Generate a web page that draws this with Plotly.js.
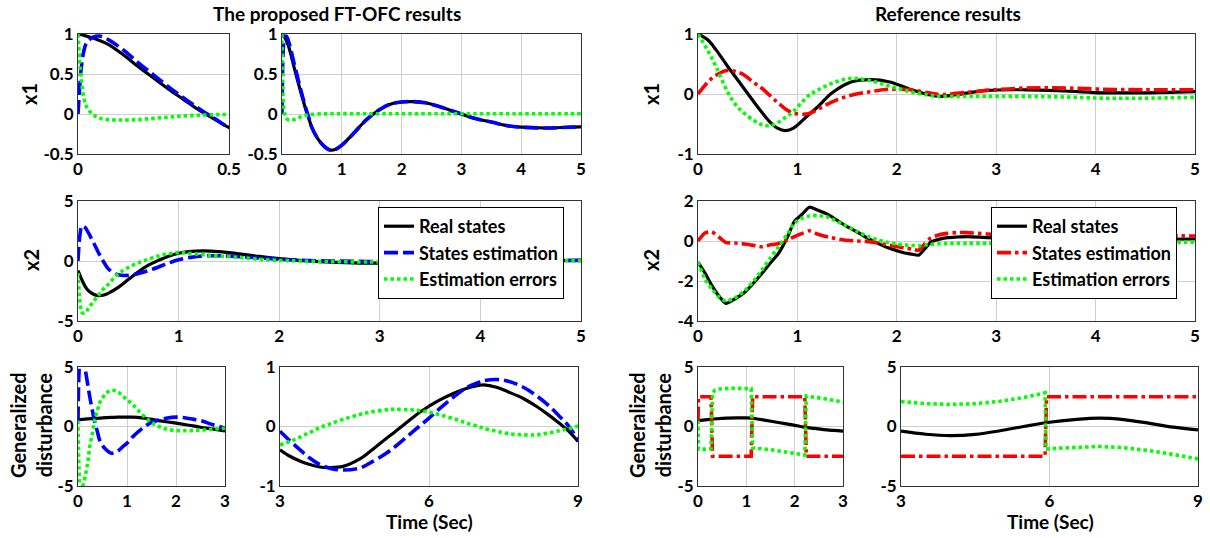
<!DOCTYPE html>
<html>
<head>
<meta charset="utf-8">
<script src="https://cdn.plot.ly/plotly-3.0.1.min.js"></script>
<style>html,body{margin:0;padding:0;background:#fff;}#chart{width:1210px;height:538px;}</style>
</head>
<body>
<div id="chart"></div>
<script>
// ---------------- Data ----------------
// Left panel, x1 (shown in both top-left subplots)
const tL1 = [0,0.005,0.01,0.02,0.03,0.05,0.07,0.1,0.15,0.2,0.25,0.3,0.35,0.4,0.45,0.5,0.6,0.7,0.8,0.9,1.0,1.2,1.4,1.6,1.8,2.0,2.2,2.4,2.6,2.8,3.0,3.2,3.5,3.8,4.0,4.4,4.8,5.0];
const L1_real = [1,0.996,0.992,0.983,0.97,0.95,0.92,0.87,0.74,0.59,0.45,0.31,0.18,0.05,-0.06,-0.17,-0.31,-0.40,-0.45,-0.44,-0.39,-0.24,-0.08,0.04,0.12,0.15,0.155,0.14,0.10,0.05,0.0,-0.05,-0.10,-0.15,-0.165,-0.175,-0.165,-0.16];
const L1_est  = [0,0.3,0.55,0.8,0.9,0.96,0.975,0.93,0.8,0.64,0.49,0.34,0.2,0.07,-0.05,-0.17,-0.31,-0.40,-0.45,-0.44,-0.39,-0.24,-0.08,0.04,0.12,0.15,0.155,0.14,0.10,0.05,0.0,-0.05,-0.10,-0.15,-0.165,-0.175,-0.165,-0.16];
const L1_err  = [1,0.7,0.45,0.19,0.08,-0.01,-0.05,-0.07,-0.075,-0.07,-0.055,-0.04,-0.025,-0.015,-0.01,-0.005,0,0.002,0.003,0.003,0.004,0.004,0.004,0.004,0.004,0.004,0.004,0.004,0.004,0.004,0.004,0.004,0.004,0.004,0.004,0.004,0.004,0.004];

// Left panel, x2
const tL2 = [0,0.02,0.04,0.07,0.1,0.15,0.2,0.25,0.3,0.4,0.5,0.6,0.7,0.8,0.9,1.0,1.1,1.25,1.4,1.6,1.8,2.0,2.2,2.5,2.8,3.0,3.5,4.0,4.5,5.0];
const L2_real = [-0.8,-1.2,-1.6,-2.1,-2.45,-2.75,-2.88,-2.85,-2.7,-2.2,-1.55,-0.9,-0.35,0.05,0.4,0.65,0.78,0.84,0.78,0.6,0.38,0.2,0.06,-0.09,-0.17,-0.17,-0.1,-0.02,0.03,0.05];
const L2_est  = [0,2.2,2.93,2.8,2.4,1.6,0.75,0.0,-0.64,-1.15,-1.2,-1.05,-0.8,-0.5,-0.18,0.1,0.28,0.42,0.44,0.36,0.25,0.15,0.07,0,-0.03,-0.04,-0.03,0,0.03,0.05];
const L2_err  = [-1.0,-3.4,-4.3,-4.33,-4.0,-3.4,-2.9,-2.35,-1.95,-1.06,-0.55,-0.15,0.15,0.42,0.6,0.7,0.65,0.52,0.42,0.3,0.14,0.05,0,-0.05,-0.08,-0.08,-0.05,-0.02,0,0.02];

// Left panel, generalized disturbance 0..3
const tL3 = [0,0.02,0.05,0.08,0.1,0.14,0.2,0.24,0.3,0.34,0.4,0.44,0.5,0.58,0.68,0.8,0.9,1.0,1.12,1.3,1.47,1.65,1.8,2.0,2.2,2.35,2.5,2.76,3.0];
const L3_real = [0.56,0.57,0.58,0.6,0.6,0.62,0.64,0.65,0.67,0.68,0.69,0.7,0.72,0.74,0.76,0.78,0.79,0.79,0.78,0.72,0.62,0.5,0.4,0.28,0.15,0.05,-0.06,-0.22,-0.37];
const L3_est  = [0.5,4.5,6.5,6.3,6.0,5.0,3.5,2.5,1.2,0.42,-0.5,-1.13,-1.6,-1.97,-2.25,-2.1,-1.75,-1.4,-0.85,-0.2,0.28,0.55,0.7,0.79,0.72,0.62,0.5,0.14,-0.14];
const L3_err  = [0.5,-3.5,-5.5,-5.4,-5.0,-4.3,-3.0,-1.7,-0.4,0.56,1.4,1.97,2.4,2.82,3.04,2.95,2.6,2.25,1.83,1.05,0.42,0.0,-0.22,-0.34,-0.36,-0.34,-0.3,-0.22,-0.14];

// Left panel, generalized disturbance 3..9
const tL4 = [3.0,3.2,3.4,3.6,3.8,4.0,4.27,4.6,4.8,5.14,5.3,5.6,5.8,6.0,6.2,6.5,6.75,7.0,7.1,7.36,7.6,7.9,8.16,8.4,8.63,8.8,9.0];
const L4_real = [-0.39,-0.5,-0.58,-0.64,-0.68,-0.69,-0.67,-0.55,-0.43,-0.2,-0.1,0.1,0.23,0.34,0.44,0.56,0.64,0.69,0.7,0.66,0.58,0.47,0.34,0.2,0.05,-0.07,-0.25];
const L4_est  = [-0.08,-0.24,-0.39,-0.53,-0.64,-0.7,-0.73,-0.7,-0.62,-0.45,-0.35,-0.14,0.0,0.14,0.29,0.5,0.65,0.74,0.77,0.79,0.76,0.66,0.52,0.36,0.17,0.02,-0.22];
const L4_err  = [-0.31,-0.25,-0.18,-0.1,-0.02,0.04,0.12,0.2,0.24,0.28,0.29,0.28,0.27,0.24,0.2,0.13,0.06,0.0,-0.03,-0.08,-0.12,-0.14,-0.14,-0.11,-0.07,-0.04,0.01];

// Right panel, x1
const tR1 = [0,0.1,0.18,0.29,0.37,0.45,0.57,0.64,0.72,0.8,0.88,0.96,1.11,1.2,1.35,1.54,1.74,1.93,2.13,2.32,2.44,2.6,2.91,3.3,3.69,4.08,4.47,5.0];
const R1_real = [1,0.9,0.74,0.48,0.3,0.12,-0.15,-0.3,-0.46,-0.57,-0.61,-0.57,-0.35,-0.22,0.02,0.2,0.24,0.2,0.08,-0.01,-0.04,-0.01,0.06,0.07,0.05,0.02,0.02,0.04];
const R1_est  = [0,0.2,0.31,0.39,0.38,0.33,0.18,0.1,-0.02,-0.14,-0.25,-0.32,-0.33,-0.26,-0.13,-0.02,0.04,0.08,0.07,0.02,-0.01,0.01,0.06,0.1,0.1,0.08,0.07,0.07];
const R1_err  = [1,0.72,0.46,0.06,-0.16,-0.3,-0.45,-0.51,-0.53,-0.48,-0.39,-0.29,-0.03,0.06,0.18,0.26,0.22,0.13,0.04,-0.02,-0.04,-0.04,-0.04,-0.04,-0.05,-0.07,-0.07,-0.055];

// Right panel, x2
const tR2 = [0,0.07,0.14,0.21,0.28,0.37,0.47,0.56,0.64,0.72,0.81,0.9,0.97,1.05,1.12,1.2,1.31,1.47,1.6,1.71,1.81,1.91,2.0,2.07,2.15,2.22,2.28,2.34,2.42,2.51,2.6,2.71,2.91,3.2,3.6,4.0,4.5,5.0];
const R2_real = [-1.05,-1.6,-2.23,-2.75,-3.12,-2.9,-2.56,-2.1,-1.64,-1.15,-0.62,0.2,0.98,1.35,1.69,1.55,1.32,0.81,0.45,0.13,-0.12,-0.34,-0.48,-0.59,-0.66,-0.71,-0.4,-0.07,0.08,0.17,0.2,0.22,0.17,0.12,0.1,0.08,0.08,0.1];
const R2_est  = [0,0.4,0.45,0.2,-0.07,-0.1,-0.15,-0.22,-0.29,-0.2,-0.12,0.05,0.22,0.38,0.51,0.35,0.2,0.05,0.0,-0.03,-0.1,-0.2,-0.28,-0.34,-0.4,-0.46,-0.15,0.15,0.3,0.38,0.42,0.42,0.35,0.32,0.3,0.28,0.27,0.25];
const R2_err  = [-1.05,-1.9,-2.4,-2.8,-3.0,-2.85,-2.48,-2.0,-1.47,-0.9,-0.29,0.35,0.89,1.15,1.25,1.28,1.18,0.81,0.48,0.22,0.05,-0.08,-0.15,-0.2,-0.22,-0.24,-0.2,-0.17,-0.14,-0.13,-0.12,-0.12,-0.12,-0.12,-0.14,-0.14,-0.1,-0.05];

// Right panel, generalized disturbance 0..3
const tR3 = [0,0.2,0.4,0.6,0.8,1.0,1.2,1.4,1.6,1.8,2.0,2.2,2.4,2.6,2.8,3.0];
const R3_real = [0.5,0.58,0.65,0.7,0.73,0.72,0.65,0.52,0.38,0.24,0.1,-0.05,-0.16,-0.26,-0.33,-0.39];
const tR3_est = [0,0.01,0.27,0.3,1.1,1.13,2.21,2.24,3.0];
const R3_est  = [0.5,2.5,2.5,-2.5,-2.5,2.5,2.5,-2.5,-2.5];
const tR3_err = [0,0.01,0.15,0.27,0.3,0.35,0.45,0.7,0.9,1.1,1.13,1.5,1.9,2.21,2.24,2.6,3.0];
const R3_err  = [0.5,-1.9,-1.9,-1.85,2.8,3.05,3.15,3.22,3.2,3.18,-1.8,-1.95,-2.2,-2.4,2.55,2.35,2.05];

// Right panel, generalized disturbance 3..9
const tR4 = [3,3.5,4,4.5,5,5.5,6,6.5,7,7.5,8,8.5,9];
const R4_real = [-0.39,-0.65,-0.76,-0.66,-0.36,0.02,0.36,0.58,0.7,0.58,0.28,-0.05,-0.28];
const tR4_est = [3,5.91,5.94,9];
const R4_est  = [-2.5,-2.5,2.5,2.5];
const tR4_err = [3,3.5,4,4.5,5,5.5,5.91,5.93,6.2,6.5,7,7.5,8,8.5,9];
const R4_err  = [2.1,1.92,1.85,1.92,2.12,2.45,2.83,-1.9,-1.82,-1.74,-1.68,-1.78,-2.02,-2.35,-2.72];

// Labels
const seriesNames = ['Real states','States estimation','Estimation errors'];
const panelTitles = ['The proposed FT-OFC results','Reference results'];
const yLabels = ['x1','x2','Generalized<br>disturbance'];
const xLabel = 'Time (Sec)';

// ---------------- Styling ----------------
const FONT = 'Lato, "Open Sans", sans-serif';
const W = 1210, H = 538;
const sBlack = {color:'#000000', width:3.2};
const sBlue  = {color:'#0000ff', width:3.6, dash:'14px,5px'};
const sGreen = {color:'#00ff00', width:3.6, dash:'3.5px,3px'};
const sRed   = {color:'#ff0000', width:3.6, dash:'14px,4px,3.5px,4px'};

const traces = [];
function add(x, y, style, ax, name, legend, show, smooth) {
  const sfx = ax === 1 ? '' : String(ax);
  const ln = Object.assign({}, style, smooth === 0 ? {shape:'linear'} : {shape:'spline', smoothing: smooth || 1});
  traces.push({type:'scatter', mode:'lines', x:x, y:y, line:ln,
    xaxis:'x'+sfx, yaxis:'y'+sfx, name:name, legend:legend||'legend',
    showlegend:!!show, hoverinfo:'skip'});
}
// Left
add(tL1, L1_real, sBlack, 1); add(tL1, L1_est, sBlue, 1); add(tL1, L1_err, sGreen, 1);
add(tL1, L1_real, sBlack, 2); add(tL1, L1_est, sBlue, 2); add(tL1, L1_err, sGreen, 2);
add(tL2, L2_real, sBlack, 3, seriesNames[0], 'legend', true);
add(tL2, L2_est, sBlue, 3, seriesNames[1], 'legend', true);
add(tL2, L2_err, sGreen, 3, seriesNames[2], 'legend', true);
add(tL3, L3_real, sBlack, 4); add(tL3, L3_est, sBlue, 4); add(tL3, L3_err, sGreen, 4);
add(tL4, L4_real, sBlack, 5); add(tL4, L4_est, sBlue, 5); add(tL4, L4_err, sGreen, 5);
// Right
add(tR1, R1_real, sBlack, 6); add(tR1, R1_est, sRed, 6); add(tR1, R1_err, sGreen, 6);
add(tR2, R2_real, sBlack, 7, seriesNames[0], 'legend2', true, 0.6);
add(tR2, R2_est, sRed, 7, seriesNames[1], 'legend2', true, 0.6);
add(tR2, R2_err, sGreen, 7, seriesNames[2], 'legend2', true, 0.6);
add(tR3, R3_real, sBlack, 8); add(tR3_est, R3_est, sRed, 8, null, null, false, 0); add(tR3_err, R3_err, sGreen, 8, null, null, false, 0);
add(tR4, R4_real, sBlack, 9); add(tR4_est, R4_est, sRed, 9, null, null, false, 0); add(tR4_err, R4_err, sGreen, 9, null, null, false, 0);

function lbl(v){ return v.map(a => String(a)); }
function axis(x0, x1, range, vals, anchor, isX) {
  return {
    domain: isX ? [x0/W, x1/W] : [1 - x1/H, 1 - x0/H],
    range: range, tickmode:'array', tickvals: vals, ticktext: lbl(vals),
    showgrid:true, gridcolor:'#cfcfcf', gridwidth:1, zeroline:false,
    showline:true, linecolor:'#333333', linewidth:1, mirror:true,
    ticks:'', fixedrange:true, anchor: anchor,
    tickfont:{family:FONT, size:17, color:'#000', weight:'bold'}
  };
}
// pixel boxes [left,right,top,bottom]
const boxes = [
  [78,229,34,154],[282,581,34,154],[78,581,201,321],[78,225,367,486],[280,578,367,486],
  [698,1195,34,154],[698,1195,201,321],[698,843,367,486],[901,1198,367,486]
];
const xr = [[0,0.5],[0,5],[0,5],[0,3],[3,9],[0,5],[0,5],[0,3],[3,9]];
const yr = [[-0.5,1],[-0.5,1],[-5,5],[-5,5],[-1,1],[-1,1],[-4,2],[-5,5],[-5,5]];
const xt = [[0,0.5],[0,1,2,3,4,5],[0,1,2,3,4,5],[0,1,2,3],[3,6,9],[0,1,2,3,4,5],[0,1,2,3,4,5],[0,1,2,3],[3,6,9]];
const yt = [[-0.5,0,0.5,1],[-0.5,0,0.5,1],[-5,0,5],[-5,0,5],[-1,0,1],[-1,0,1],[-4,-2,0,2],[-5,0,5],[-5,0,5]];

const legendFont = {family:FONT, size:18, color:'#000', weight:'bold'};
const layout = {
  width: W, height: H, margin:{l:0,r:0,t:0,b:0}, paper_bgcolor:'#fff', plot_bgcolor:'#fff',
  font:{family:FONT, color:'#000'}, hovermode:false,
  legend:{x:378/W, y:1-207/H, xanchor:'left', yanchor:'top', bgcolor:'#fff', bordercolor:'#000', borderwidth:1,
    font:legendFont, tracegroupgap:0, itemwidth:30},
  legend2:{x:991/W, y:1-207/H, xanchor:'left', yanchor:'top', bgcolor:'#fff', bordercolor:'#000', borderwidth:1,
    font:legendFont, tracegroupgap:0, itemwidth:30},
  annotations: []
};
for (let i = 0; i < 9; i++) {
  const sfx = i === 0 ? '' : String(i+1);
  const b = boxes[i];
  layout['xaxis'+sfx] = axis(b[0], b[1], xr[i], xt[i], 'y'+sfx, true);
  layout['yaxis'+sfx] = axis(b[2], b[3], yr[i], yt[i], 'x'+sfx, false);
}
function ann(text, px, py, size, angle) {
  layout.annotations.push({text:text, x:px/W, y:1-py/H, xref:'paper', yref:'paper',
    showarrow:false, xanchor:'center', yanchor:'middle', textangle:angle||0,
    font:{family:FONT, size:size, color:'#000', weight:'bold'}});
}
ann(panelTitles[0], 337, 14, 19);
ann(panelTitles[1], 948, 14, 19);
ann(yLabels[0], 29, 94, 20, -90);
ann(yLabels[1], 31, 260, 20, -90);
ann(yLabels[2], 31, 425, 20, -90);
ann(yLabels[0], 651, 94, 20, -90);
ann(yLabels[1], 651, 260, 20, -90);
ann(yLabels[2], 650, 425, 20, -90);
ann(xLabel, 429, 521, 19);
ann(xLabel, 1050, 521, 19);

Plotly.newPlot('chart', traces, layout, {staticPlot:true, displayModeBar:false});
</script>
</body>
</html>
